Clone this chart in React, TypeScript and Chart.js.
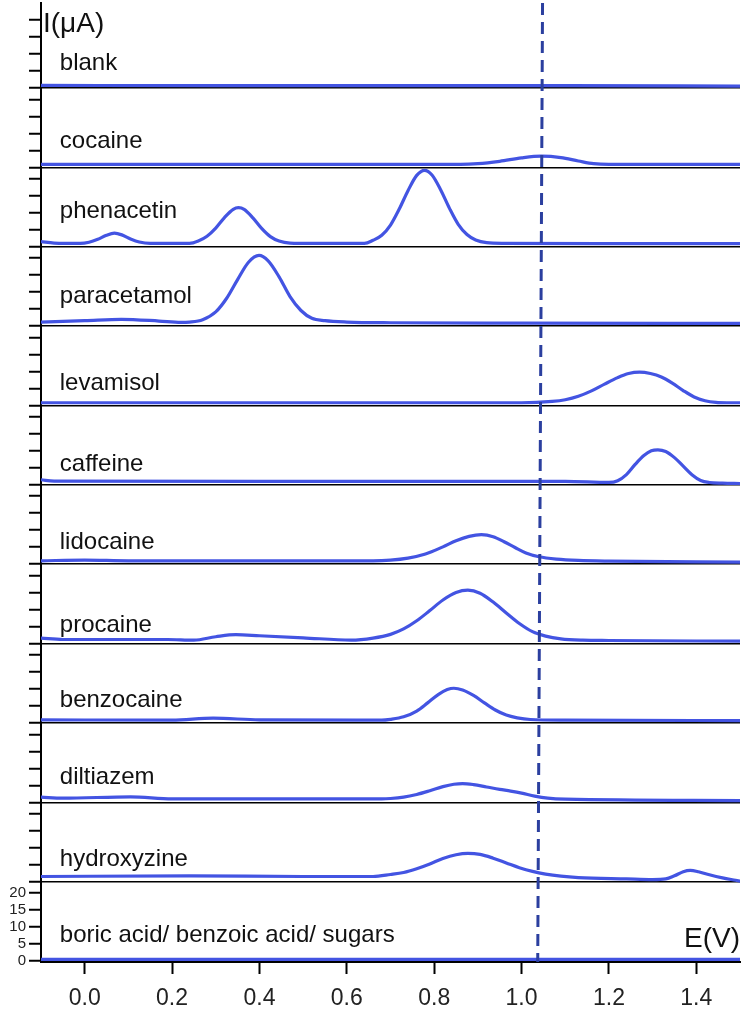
import { useEffect, useRef } from 'react';
import { Chart, registerables } from 'chart.js';

Chart.register(...registerables);

const FONT = '"Liberation Sans", Arial, Helvetica, sans-serif';

// Panels, top to bottom
const PANEL_NAMES = [
  'blank', 'cocaine', 'phenacetin', 'paracetamol', 'levamisol', 'caffeine',
  'lidocaine', 'procaine', 'benzocaine', 'diltiazem', 'hydroxyzine',
  'boric acid/ benzoic acid/ sugars',
];
// vertical offset between stacked baselines (µA)
const PANEL_STEP = 23.34;
// label baseline height above each panel baseline (µA)
const LABEL_OFFSETS = [5.3, 5.6, 8.5, 6.8, 4.7, 4.1, 4.4, 3.5, 4.7, 5.3, 4.7, 5.6];
const LABEL_X = -0.057;

const X_TICKS = [0.0, 0.2, 0.4, 0.6, 0.8, 1.0, 1.2, 1.4];
const Y_TICK_STEPS = [0, 5, 10, 15, 20];
const Y_MIN = -0.3;
const Y_MAX = 281.76;
const DASH_X = [1.048, 1.037];

// Voltammograms: potential (V) and current (µA above panel baseline)
const blankX = [-0.1, 0.3, 0.7, 1.1, 1.5];
const blankY = [0.8, 0.7, 0.7, 0.7, 0.6];

const cocaineX = [-0.1, 0.5, 0.86, 0.9, 0.95, 1.0, 1.045, 1.09, 1.13, 1.165, 1.2, 1.3, 1.5];
const cocaineY = [0.9, 0.9, 0.9, 1.1, 1.8, 2.8, 3.3, 2.9, 1.9, 1.1, 0.9, 0.9, 0.9];

const phenacetinX = [-0.1, -0.07, -0.01, 0.01, 0.03, 0.05, 0.068, 0.085, 0.105, 0.125, 0.15, 0.24, 0.26, 0.28, 0.3, 0.32, 0.34, 0.352, 0.365, 0.385, 0.405, 0.425, 0.445, 0.47, 0.52, 0.64, 0.66, 0.68, 0.7, 0.72, 0.74, 0.76, 0.778, 0.795, 0.815, 0.835, 0.855, 0.875, 0.895, 0.92, 0.96, 1.2, 1.5];
const phenacetinY = [1.5, 1.1, 1.0, 1.35, 2.2, 3.4, 4.0, 3.5, 2.3, 1.4, 1.0, 1.0, 1.7, 3.1, 5.5, 8.6, 11.0, 11.5, 11.0, 8.5, 5.4, 3.0, 1.7, 1.1, 1.0, 1.0, 1.9, 3.4, 6.4, 11.1, 16.5, 21.0, 22.5, 21.1, 16.7, 11.3, 6.6, 3.6, 2.0, 1.2, 1.0, 0.9, 0.9];

const paracetamolX = [-0.1, 0.0, 0.084, 0.17, 0.22, 0.24, 0.27, 0.3, 0.325, 0.35, 0.375, 0.399, 0.42, 0.445, 0.47, 0.495, 0.52, 0.55, 0.6, 0.7, 1.0, 1.5];
const paracetamolY = [1.2, 1.6, 2.0, 1.5, 1.1, 1.2, 1.9, 4.2, 8.2, 13.7, 18.8, 20.8, 19.2, 14.5, 8.7, 4.6, 2.3, 1.6, 1.2, 1.0, 0.9, 0.8];

const levamisolX = [-0.1, 1.0, 1.07, 1.1, 1.13, 1.16, 1.19, 1.22, 1.245, 1.27, 1.295, 1.32, 1.345, 1.37, 1.395, 1.42, 1.445, 1.47, 1.5];
const levamisolY = [0.8, 0.8, 1.2, 1.7, 2.7, 4.3, 6.3, 8.2, 9.4, 9.8, 9.4, 8.4, 6.6, 4.4, 2.5, 1.4, 0.9, 0.8, 0.8];

const caffeineX = [-0.1, -0.07, 0.5, 1.1, 1.2, 1.22, 1.24, 1.26, 1.28, 1.297, 1.312, 1.33, 1.35, 1.37, 1.39, 1.41, 1.43, 1.46, 1.5];
const caffeineY = [1.5, 1.1, 1.0, 1.0, 0.7, 1.2, 3.0, 6.0, 8.6, 10.0, 10.3, 9.8, 8.0, 5.5, 3.0, 1.3, 0.7, 0.5, 0.4];

const lidocaineX = [-0.1, 0.0, 0.1, 0.66, 0.7, 0.74, 0.78, 0.82, 0.85, 0.88, 0.908, 0.935, 0.96, 0.985, 1.01, 1.04, 1.08, 1.13, 1.2, 1.5];
const lidocaineY = [1.0, 1.2, 1.0, 1.0, 1.2, 1.8, 3.0, 5.1, 6.9, 8.2, 8.7, 8.1, 6.6, 4.9, 3.3, 2.2, 1.5, 1.1, 0.9, 0.6];

const procaineX = [-0.1, -0.05, 0.19, 0.25, 0.3, 0.346, 0.4, 0.5, 0.61, 0.66, 0.7, 0.73, 0.76, 0.79, 0.82, 0.85, 0.877, 0.905, 0.935, 0.965, 0.995, 1.025, 1.055, 1.09, 1.14, 1.2, 1.5];
const procaineY = [1.6, 1.2, 1.2, 1.0, 2.0, 2.6, 2.3, 1.7, 1.0, 1.6, 2.7, 4.3, 6.7, 9.7, 12.8, 15.0, 15.7, 14.8, 12.2, 9.0, 5.9, 3.5, 2.2, 1.4, 1.0, 0.9, 0.7];

const benzocaineX = [-0.1, 0.2, 0.294, 0.4, 0.68, 0.7, 0.73, 0.76, 0.785, 0.81, 0.83, 0.845, 0.865, 0.89, 0.915, 0.94, 0.965, 0.99, 1.02, 1.1, 1.5];
const benzocaineY = [0.9, 0.8, 1.4, 0.9, 0.8, 1.05, 1.8, 3.5, 5.9, 8.4, 9.8, 10.2, 9.7, 8.1, 5.9, 3.8, 2.3, 1.5, 1.0, 0.8, 0.7];

const diltiazemX = [-0.1, -0.05, 0.105, 0.2, 0.68, 0.7, 0.73, 0.76, 0.79, 0.82, 0.845, 0.865, 0.89, 0.92, 0.95, 0.975, 1.0, 1.03, 1.06, 1.1, 1.5];
const diltiazemY = [1.5, 1.2, 1.6, 1.0, 1.0, 1.1, 1.5, 2.3, 3.4, 4.6, 5.3, 5.5, 5.2, 4.5, 3.8, 3.3, 2.7, 1.8, 1.2, 0.9, 0.5];

const hydroxyzineX = [-0.1, 0.24, 0.5, 0.66, 0.7, 0.73, 0.76, 0.79, 0.82, 0.85, 0.877, 0.905, 0.935, 0.965, 0.995, 1.025, 1.055, 1.09, 1.13, 1.24, 1.3, 1.33, 1.35, 1.37, 1.386, 1.405, 1.43, 1.46, 1.49, 1.507];
const hydroxyzineY = [1.5, 1.7, 1.5, 1.5, 2.1, 2.7, 3.8, 5.2, 6.8, 7.9, 8.3, 8.0, 6.9, 5.5, 4.1, 3.0, 2.2, 1.6, 1.2, 0.8, 0.6, 0.8, 1.7, 2.9, 3.3, 2.9, 2.0, 1.1, 0.4, 0.0];

const boricX = [-0.1, 0.3, 0.7, 1.1, 1.5];
const boricY = [0.5, 0.5, 0.5, 0.5, 0.5];

const SERIES_X = [blankX, cocaineX, phenacetinX, paracetamolX, levamisolX, caffeineX, lidocaineX, procaineX, benzocaineX, diltiazemX, hydroxyzineX, boricX];
const SERIES_Y = [blankY, cocaineY, phenacetinY, paracetamolY, levamisolY, caffeineY, lidocaineY, procaineY, benzocaineY, diltiazemY, hydroxyzineY, boricY];

const CURVE_COLOR = '#4354e2';
const DASH_COLOR = '#2b3f9f';

export default function App() {
  const canvasRef = useRef<HTMLCanvasElement | null>(null);

  useEffect(() => {
    document.body.style.margin = '0';
    const canvas = canvasRef.current;
    if (!canvas) return;
    const n = PANEL_NAMES.length;

    const datasets: any[] = PANEL_NAMES.map((name, i) => {
      const k = n - 1 - i;
      return {
        label: name,
        data: SERIES_X[i].map((x, j) => ({ x, y: SERIES_Y[i][j] + k * PANEL_STEP })),
        borderColor: CURVE_COLOR,
        borderWidth: 3.2,
        pointRadius: 0,
        fill: false,
        cubicInterpolationMode: 'monotone',
        order: 1,
      };
    });
    datasets.push({
      label: 'threshold',
      data: [{ x: DASH_X[0], y: Y_MAX }, { x: DASH_X[1], y: Y_MIN }],
      borderColor: DASH_COLOR,
      borderWidth: 3,
      borderDash: [12, 7],
      pointRadius: 0,
      fill: false,
      order: 0,
    });

    const yTicks: { value: number }[] = [];
    for (let k = 0; k < n; k++) {
      Y_TICK_STEPS.forEach((s) => yTicks.push({ value: k * PANEL_STEP + s }));
    }

    const textPlugin = {
      id: 'panelText',
      afterDatasetsDraw(chart: any) {
        const { ctx, chartArea } = chart;
        const xs = chart.scales.x;
        const ys = chart.scales.y;
        ctx.save();
        ctx.fillStyle = '#111';
        ctx.textAlign = 'left';
        ctx.textBaseline = 'alphabetic';
        ctx.font = `24px ${FONT}`;
        PANEL_NAMES.forEach((name, i) => {
          const k = n - 1 - i;
          ctx.fillText(name, xs.getPixelForValue(LABEL_X), ys.getPixelForValue(k * PANEL_STEP + LABEL_OFFSETS[i]));
        });
        ctx.font = `28px ${FONT}`;
        ctx.fillText('I(μA)', chartArea.left + 2, chartArea.top + 29);
        ctx.textAlign = 'right';
        ctx.font = `28px ${FONT}`;
        ctx.fillText('E(V)', chartArea.right, chartArea.bottom - 15);
        ctx.restore();
      },
    };

    const chart = new Chart(canvas, {
      type: 'line',
      data: { datasets },
      options: {
        responsive: false,
        animation: false,
        layout: { padding: { top: 3, right: 5, left: 0, bottom: 0 } },
        plugins: { legend: { display: false }, tooltip: { enabled: false } },
        elements: { point: { radius: 0 } },
        scales: {
          x: {
            type: 'linear',
            min: -0.1,
            max: 1.5,
            afterBuildTicks: (s: any) => { s.ticks = X_TICKS.map((v) => ({ value: v })); },
            afterFit: (s: any) => { s.height = 62; s.paddingLeft = 0; s.paddingRight = 0; },
            ticks: {
              autoSkip: false,
              maxRotation: 0,
              padding: 11,
              color: '#222',
              font: { size: 23, family: FONT },
              callback: (v: any) => Number(v).toFixed(1),
            },
            grid: { drawOnChartArea: false, drawTicks: true, tickLength: 12, tickColor: '#000', tickWidth: 2 },
            border: { display: true, color: '#000', width: 2 },
          },
          y: {
            type: 'linear',
            min: Y_MIN,
            max: Y_MAX,
            afterBuildTicks: (s: any) => { s.ticks = yTicks.map((t) => ({ value: t.value })); },
            afterFit: (s: any) => { s.width = 41; s.paddingTop = 0; s.paddingBottom = 0; },
            ticks: {
              autoSkip: false,
              padding: 3,
              color: '#222',
              font: { size: 15, family: FONT },
              callback: (_v: any, i: number) => (i < Y_TICK_STEPS.length ? String(Y_TICK_STEPS[i]) : ''),
            },
            grid: {
              drawTicks: true,
              tickLength: 12,
              tickColor: '#000',
              tickWidth: 2,
              color: (ctx: any) => (ctx.index % Y_TICK_STEPS.length === 0 ? '#000' : 'rgba(0,0,0,0)'),
              lineWidth: 1.5,
            },
            border: { display: true, color: '#000', width: 2 },
          },
        },
      } as any,
      plugins: [textPlugin],
    });

    return () => chart.destroy();
  }, []);

  return (
    <div style={{ width: 745, height: 1024 }}>
      <canvas ref={canvasRef} width={745} height={1024} style={{ display: 'block' }} />
    </div>
  );
}
